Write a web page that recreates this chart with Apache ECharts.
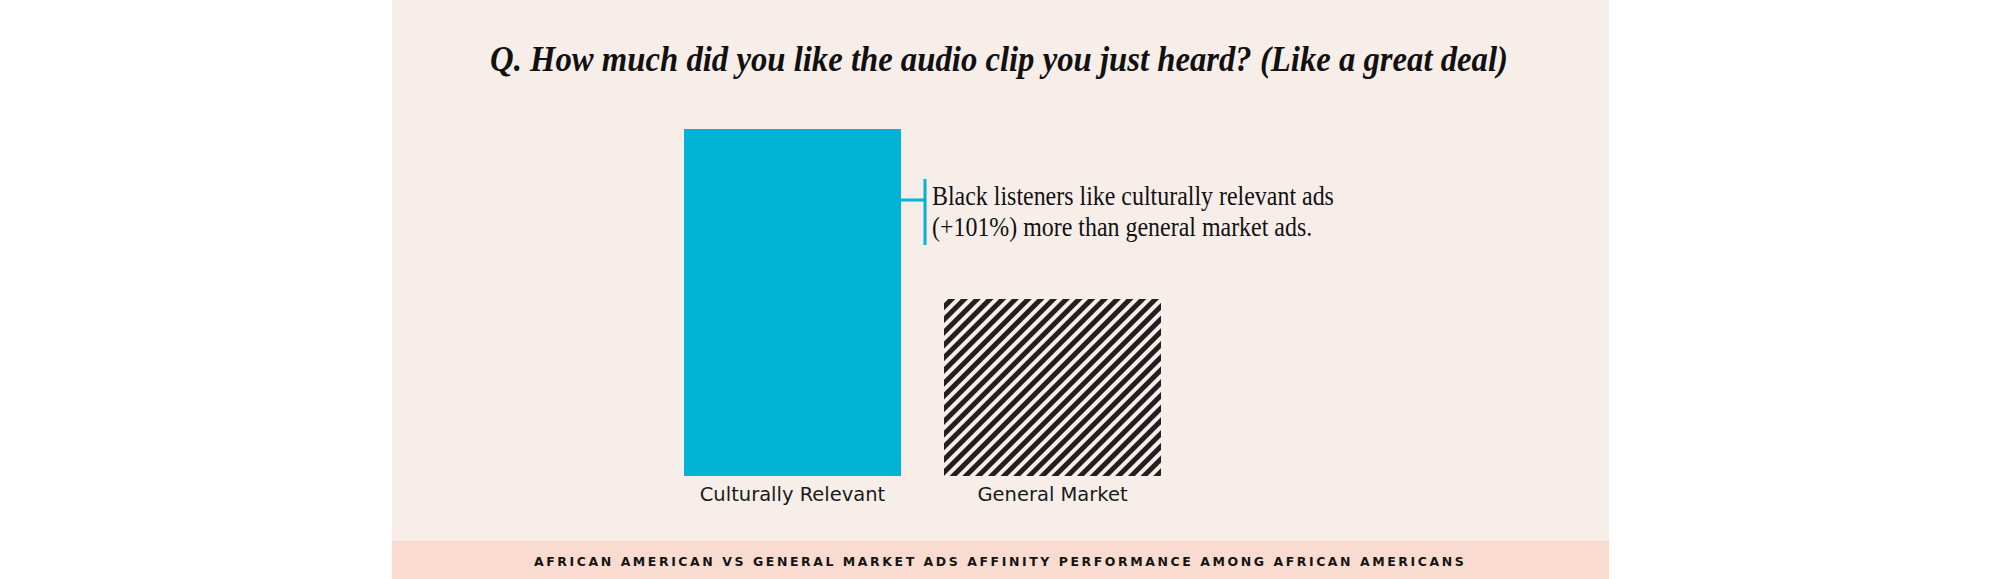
<!DOCTYPE html>
<html><head><meta charset="utf-8">
<script src="https://cdn.jsdelivr.net/npm/echarts@6/dist/echarts.min.js"></script>
<style>html,body{margin:0;padding:0;background:#fff}#chart{width:2000px;height:579px}</style>
</head><body><div id="chart"></div>
<script>
const titleText = 'Q. How much did you like the audio clip you just heard? (Like a great deal)';
const categories = ['Culturally Relevant', 'General Market'];
const values = [100, 51];
const noteLines = ['Black listeners like culturally relevant ads', '(+101%) more than general market ads.'];
const footerText = 'AFRICAN AMERICAN VS GENERAL MARKET ADS AFFINITY PERFORMANCE AMONG AFRICAN AMERICANS';

const CYAN = '#01b3d4';
const PANEL = '#f8eee9';
const STRIP = '#f9dccf';
const INK = '#111111';
const SERIF = '"Liberation Serif", "DejaVu Serif", serif';
const SANS = '"DejaVu Sans", "Noto Sans", sans-serif';
const FOOT_FAMILY = '"DejaVu Sans", sans-serif';

const mctx = document.createElement('canvas').getContext('2d');
function measure(font, text) { mctx.font = font; return mctx.measureText(text).width; }

const TITLE_SIZE = 35;
const titleScale = 1018 / measure('italic bold ' + TITLE_SIZE + 'px ' + SERIF, titleText);
const NOTE_SIZE = 28;
const noteScale = 402 / measure('normal ' + NOTE_SIZE + 'px ' + SERIF, noteLines[0]);
const FOOT_SIZE = 12.5;
const footW = measure('bold ' + FOOT_SIZE + 'px ' + FOOT_FAMILY, footerText);
const footSpacing = Math.max(0, (930 - footW) / (footerText.length - 1));

const BAR_W = 217;
const chart = echarts.init(document.getElementById('chart'), null, { renderer: 'svg' });

function txt(id, x, y, text, opts) {
  return Object.assign({
    type: 'text', id: id, x: x, y: y, z: 10,
    style: Object.assign({
      text: text, x: 0, y: 0, fill: INK,
      textAlign: 'center', textVerticalAlign: 'middle',
      align: 'center', verticalAlign: 'middle'
    }, opts.style)
  }, opts.el || {});
}

chart.setOption({
  animation: false,
  backgroundColor: '#ffffff',
  grid: { left: 662.5, width: 520, top: 129, bottom: 103, containLabel: false },
  xAxis: {
    type: 'category', data: categories,
    axisLine: { show: false }, axisTick: { show: false }, splitLine: { show: false },
    axisLabel: { color: '#1a1a1a', fontFamily: SANS, fontSize: 19.5, margin: 8 }
  },
  yAxis: { type: 'value', min: 0, max: 100, show: false, splitLine: { show: false } },
  series: [{
    type: 'bar', barWidth: BAR_W, z: 5,
    data: [
      { value: values[0], itemStyle: { color: CYAN } },
      { value: values[1], itemStyle: { color: PANEL, decal: {
          symbol: 'rect', symbolSize: 1, dashArrayX: [1, 0], dashArrayY: [5, 4],
          rotation: -Math.PI / 4, color: '#231f20' } } }
    ]
  }],
  graphic: [
    { type: 'rect', id: 'panel', z: -10, silent: true, shape: { x: 392, y: 0, width: 1217, height: 579 }, style: { fill: PANEL } },
    { type: 'rect', id: 'strip', z: -9, silent: true, shape: { x: 392, y: 541, width: 1217, height: 38 }, style: { fill: STRIP } },
    txt('title', 999, 59.5, titleText, { el: { scaleX: titleScale }, style: { font: 'italic bold ' + TITLE_SIZE + 'px ' + SERIF } }),
    txt('footer', 534, 561.5, footerText, { style: { font: 'bold ' + FOOT_SIZE + 'px ' + FOOT_FAMILY, fill: '#141414', textAlign: 'left', align: 'left' } })
  ]
});

// annotation bracket placed relative to the first bar
const p0 = chart.convertToPixel({ seriesIndex: 0 }, [0, values[0]]);
const barRight = p0[0] + BAR_W / 2;
const bx = barRight + 24;
chart.setOption({
  graphic: [
    { type: 'line', id: 'brH', z: 6, shape: { x1: barRight, y1: 200, x2: bx, y2: 200 }, style: { stroke: CYAN, lineWidth: 3 } },
    { type: 'line', id: 'brV', z: 6, shape: { x1: bx, y1: 179, x2: bx, y2: 245 }, style: { stroke: CYAN, lineWidth: 3 } },
    txt('note1', bx + 7, 196, noteLines[0], { el: { scaleX: noteScale }, style: { font: NOTE_SIZE + 'px ' + SERIF, textAlign: 'left', align: 'left' } }),
    txt('note2', bx + 7, 227, noteLines[1], { el: { scaleX: noteScale }, style: { font: NOTE_SIZE + 'px ' + SERIF, textAlign: 'left', align: 'left' } })
  ]
});

function spaceFooter() {
  document.querySelectorAll('#chart svg text').forEach(function (t) {
    if (t.textContent === footerText) {
      t.setAttribute('letter-spacing', footSpacing.toFixed(2));
      t.style.letterSpacing = footSpacing.toFixed(2) + 'px';
    }
  });
}
spaceFooter();
chart.on('finished', spaceFooter);
chart.on('rendered', spaceFooter);
</script>
</body></html>
